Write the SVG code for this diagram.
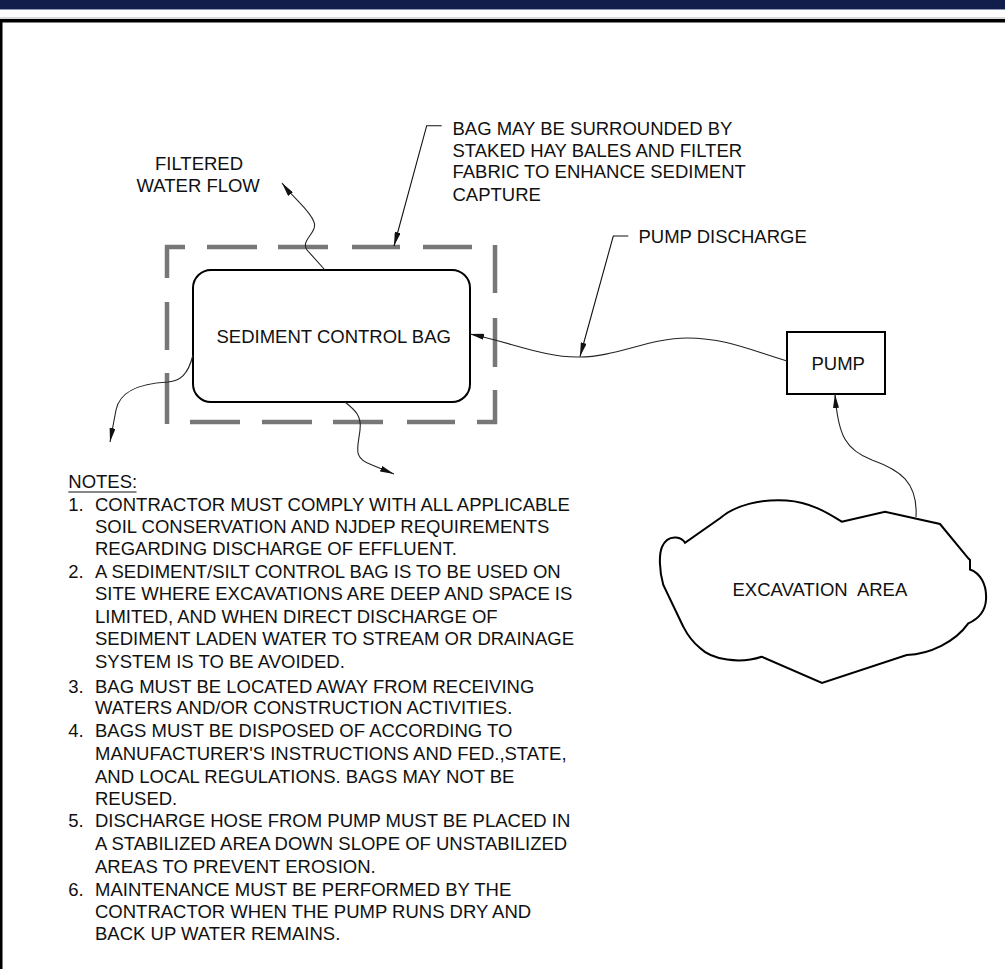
<svg xmlns="http://www.w3.org/2000/svg" width="1005" height="969" viewBox="0 0 1005 969">
<style>
text{font-family:"Liberation Sans",Arial,sans-serif;font-size:18.5px;fill:#111}
.fence{stroke:#777;stroke-width:4.5;fill:none}
.obj{stroke:#000;stroke-width:2;fill:#fff}
.flow{stroke:#222;stroke-width:1.1;fill:none;marker-end:url(#ah)}
.lead{stroke:#111;stroke-width:1.1;fill:none}
</style>
<defs>
<marker id="ah" viewBox="0 0 14 6" refX="14" refY="3" markerWidth="14" markerHeight="6" markerUnits="userSpaceOnUse" orient="auto">
<path d="M0,0 L14,3 L0,6 z" fill="#111"/>
</marker>
</defs>
<rect width="1005" height="969" fill="#fff"/>
<g id="frame">
<rect x="0" y="0" width="1005" height="9" fill="#111d4a"/>
<line x1="0" y1="9.5" x2="1005" y2="9.5" stroke="#8f9ab5" stroke-width="1"/>
<line x1="0" y1="18" x2="1005" y2="18" stroke="#b5b5b5" stroke-width="1"/>
<rect x="0" y="19" width="1005" height="3.5" fill="#000"/>
<rect x="0" y="19" width="2.5" height="950" fill="#000"/>
</g>
<g id="bag-fence">
<path class="fence" d="M165,247 H185 M207,247 H257 M278,247 H328 M352,247 H400 M423,247 H472 M495,245 V293 M495,318 V367 M495,390 V424 M477,422 H497 M455,422 H407 M383,422 H333 M312,422 H262 M240,422 H190 M167,424 V373 M167,350 V302 M167,278 V245"/>
</g>
<g id="bag">
<rect class="obj" x="193" y="270" width="277" height="132" rx="18"/>
<text x="216.5" y="343">SEDIMENT CONTROL BAG</text>
</g>
<g id="pump">
<rect class="obj" x="787" y="332" width="98" height="62"/>
<text x="811.5" y="369.5">PUMP</text>
</g>
<g id="excavation">
<path class="obj" d="M841.7,521.7 L885,511.7 L940,524 L968.3,558.3 L970,560 L970,569.5 C980,573 987,584 986,600 C985,613 976,620 968.3,623.3 C955,642 930,654 906.7,655 L822,683 L761.7,656.7 C740,664 712,660 700,648 C690,640 686,632 683.3,626.7 L663.3,585 C659,570 659,554 662,547 C665,540 670,537 676,537.5 C681,538 684,541 685,542.7 L720,518.3 C735,505 760,499 786.7,500.5 C810,502 828,513 841.7,521.7 Z"/>
<text x="732.5" y="596" xml:space="preserve">EXCAVATION  AREA</text>
</g>
<g id="labels">
<text x="155" y="169.5">FILTERED</text>
<text x="136.5" y="192">WATER FLOW</text>
<text x="452.5" y="135">BAG MAY BE SURROUNDED BY</text>
<text x="452.5" y="156.5">STAKED HAY BALES AND FILTER</text>
<text x="452.5" y="178">FABRIC TO ENHANCE SEDIMENT</text>
<text x="452.5" y="200.5">CAPTURE</text>
<text x="638.5" y="242.5">PUMP DISCHARGE</text>
</g>
<g id="connectors">
<path class="lead" d="M441.7,125.7 H426.7 L394,246" marker-end="url(#ah)"/>
<path class="lead" d="M628.3,236 H613.3 L580,356.5" marker-end="url(#ah)"/>
<path class="flow" d="M787,361 C750,350 725,338 687,338 C650,338 615,357 580,357 C545,358 510,342 470,334"/>
<path class="flow" d="M916,517 C918,482 900,470 872,460 C846,450 838,436 835,394"/>
<path class="flow" d="M325,270 L307,250 C300,240 318,233 314,222 C310,210 295,200 282,183"/>
<path class="flow" d="M193,355 C188,375 180,381 168,382 C132,384 119,395 116,410 L110,442"/>
<path class="flow" d="M345,402 C355,410 362,416 360,430 C358,448 352,458 372,465 L394,474"/>
</g>
<g id="notes">
<text x="68.3" y="488">NOTES:</text>
<line x1="68.3" y1="492" x2="136.5" y2="492" stroke="#111" stroke-width="1.2"/>
<text x="68.3" y="511">1.</text>
<text x="95" y="511">CONTRACTOR MUST COMPLY WITH ALL APPLICABLE</text>
<text x="95" y="533">SOIL CONSERVATION AND NJDEP REQUIREMENTS</text>
<text x="95" y="554.5">REGARDING DISCHARGE OF EFFLUENT.</text>
<text x="68.3" y="577.5">2.</text>
<text x="95" y="577.5">A SEDIMENT/SILT CONTROL BAG IS TO BE USED ON</text>
<text x="95" y="600">SITE WHERE EXCAVATIONS ARE DEEP AND SPACE IS</text>
<text x="95" y="622.7">LIMITED, AND WHEN DIRECT DISCHARGE OF</text>
<text x="95" y="645">SEDIMENT LADEN WATER TO STREAM OR DRAINAGE</text>
<text x="95" y="668.3">SYSTEM IS TO BE AVOIDED.</text>
<text x="68.3" y="692.7">3.</text>
<text x="95" y="692.7">BAG MUST BE LOCATED AWAY FROM RECEIVING</text>
<text x="95" y="714.3">WATERS AND/OR CONSTRUCTION ACTIVITIES.</text>
<text x="68.3" y="737.3">4.</text>
<text x="95" y="737.3">BAGS MUST BE DISPOSED OF ACCORDING TO</text>
<text x="95" y="760">MANUFACTURER'S INSTRUCTIONS AND FED.,STATE,</text>
<text x="95" y="782.7">AND LOCAL REGULATIONS. BAGS MAY NOT BE</text>
<text x="95" y="805">REUSED.</text>
<text x="68.3" y="827.3">5.</text>
<text x="95" y="827.3">DISCHARGE HOSE FROM PUMP MUST BE PLACED IN</text>
<text x="95" y="850">A STABILIZED AREA DOWN SLOPE OF UNSTABILIZED</text>
<text x="95" y="872.7">AREAS TO PREVENT EROSION.</text>
<text x="68.3" y="896">6.</text>
<text x="95" y="896">MAINTENANCE MUST BE PERFORMED BY THE</text>
<text x="95" y="918">CONTRACTOR WHEN THE PUMP RUNS DRY AND</text>
<text x="95" y="940">BACK UP WATER REMAINS.</text>
</g>
</svg>
